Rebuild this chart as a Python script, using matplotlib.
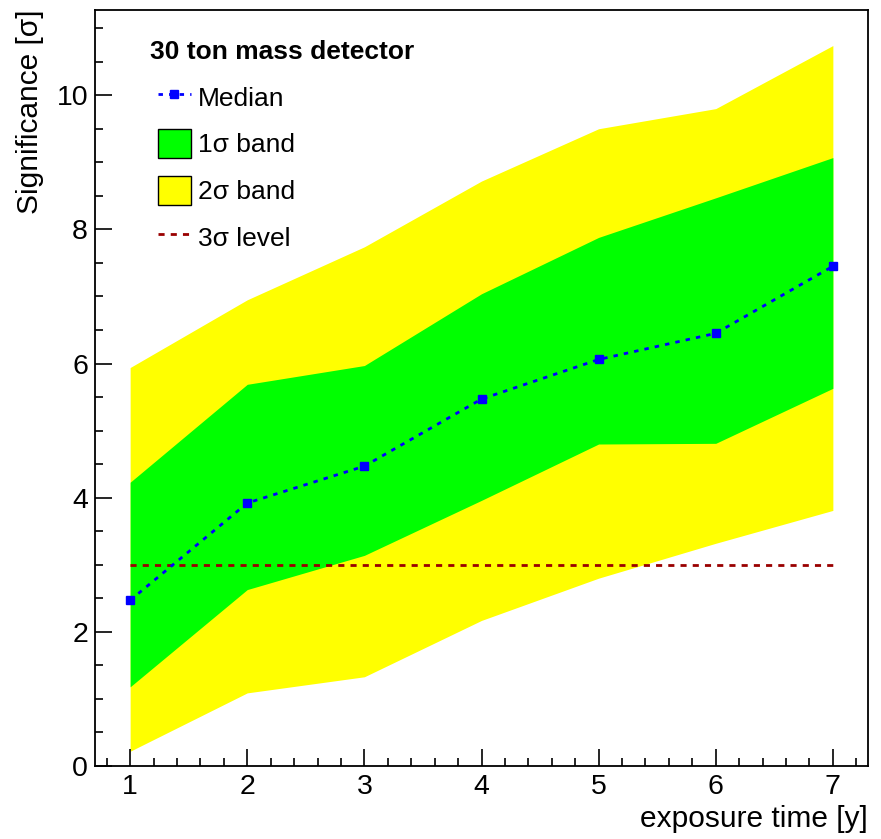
import numpy as np
import matplotlib.pyplot as plt
from matplotlib.lines import Line2D
from matplotlib.patches import Patch
from matplotlib.ticker import MultipleLocator

plt.rcParams["font.family"] = ["Liberation Sans", "DejaVu Sans"]

# exposure time in years and expected significance
years = [1, 2, 3, 4, 5, 6, 7]
median = [2.47, 3.92, 4.47, 5.47, 6.06, 6.45, 7.45]
band1_lo = [1.18, 2.63, 3.14, 3.96, 4.80, 4.81, 5.63]
band1_hi = [4.23, 5.69, 5.97, 7.04, 7.88, 8.47, 9.07]
band2_lo = [0.22, 1.09, 1.33, 2.17, 2.80, 3.32, 3.81]
band2_hi = [5.94, 6.95, 7.74, 8.72, 9.50, 9.80, 10.74]
level_3sigma = 3.0

W, H = 881, 839
fig = plt.figure(figsize=(W / 100, H / 100), dpi=100)
ax = fig.add_axes([95 / W, 1 - 766 / H, 773 / W, 756 / H])

ax.fill_between(years, band2_lo, band2_hi, color="#ffff00", lw=0)
ax.fill_between(years, band1_lo, band1_hi, color="#00ff00", lw=0)
ax.plot([years[0], years[-1]], [level_3sigma, level_3sigma], color="#990000",
        lw=2.0, ls=(0, (2.2, 2.2)))
ax.plot(years, median, color="#0000ff", lw=2.0, ls=(0, (1.6, 2.2)),
        marker="s", ms=5.5)

ax.set_xlim(0.7, 7.3)
ax.set_ylim(0, 11.27)
ax.xaxis.set_major_locator(MultipleLocator(1))
ax.xaxis.set_minor_locator(MultipleLocator(0.2))
ax.yaxis.set_major_locator(MultipleLocator(2))
ax.yaxis.set_minor_locator(MultipleLocator(0.5))
ax.tick_params(which="both", direction="in", top=False, right=False,
               labelsize=20.5, width=1.2)
ax.tick_params(axis="x", which="major", length=12, pad=6)
ax.tick_params(axis="y", which="major", length=12, pad=5)
ax.tick_params(which="minor", length=6)
for sp in ax.spines.values():
    sp.set_linewidth(1.3)

ax.set_ylabel("Significance [σ]", fontsize=21.5, loc="top")
ax.yaxis.set_label_coords(-0.066, 1.0)
ax.set_xlabel("exposure time [y]", fontsize=21.5, loc="right")
ax.xaxis.set_label_coords(1.0, -0.052)

# legend header drawn separately so it can sit left of the symbols
ax.text((150 - 95) / 773, 1 - (52 - 10) / 756, "30 ton mass detector",
        transform=ax.transAxes, fontsize=19, fontweight="bold",
        ha="left", va="center")

handles = [
    Line2D([], [], color="#0000ff", lw=2.0, ls=(0, (1.6, 2.2)), marker="s", ms=5.5),
    Patch(facecolor="#00ff00", edgecolor="black", lw=1.0),
    Patch(facecolor="#ffff00", edgecolor="black", lw=1.0),
    Line2D([], [], color="#990000", lw=2.0, ls=(0, (2.2, 2.2))),
]
labels = ["Median", "1σ band", "2σ band", "3σ level"]
ax.legend(handles, labels, loc="upper left",
          bbox_to_anchor=((158 - 95) / 773, 1 - (82.5 - 10) / 756),
          frameon=False, fontsize=19, borderpad=0, borderaxespad=0,
          handlelength=1.25, handleheight=1.3, handletextpad=0.27,
          labelspacing=0.68)

fig.savefig("out.png", dpi=100)
